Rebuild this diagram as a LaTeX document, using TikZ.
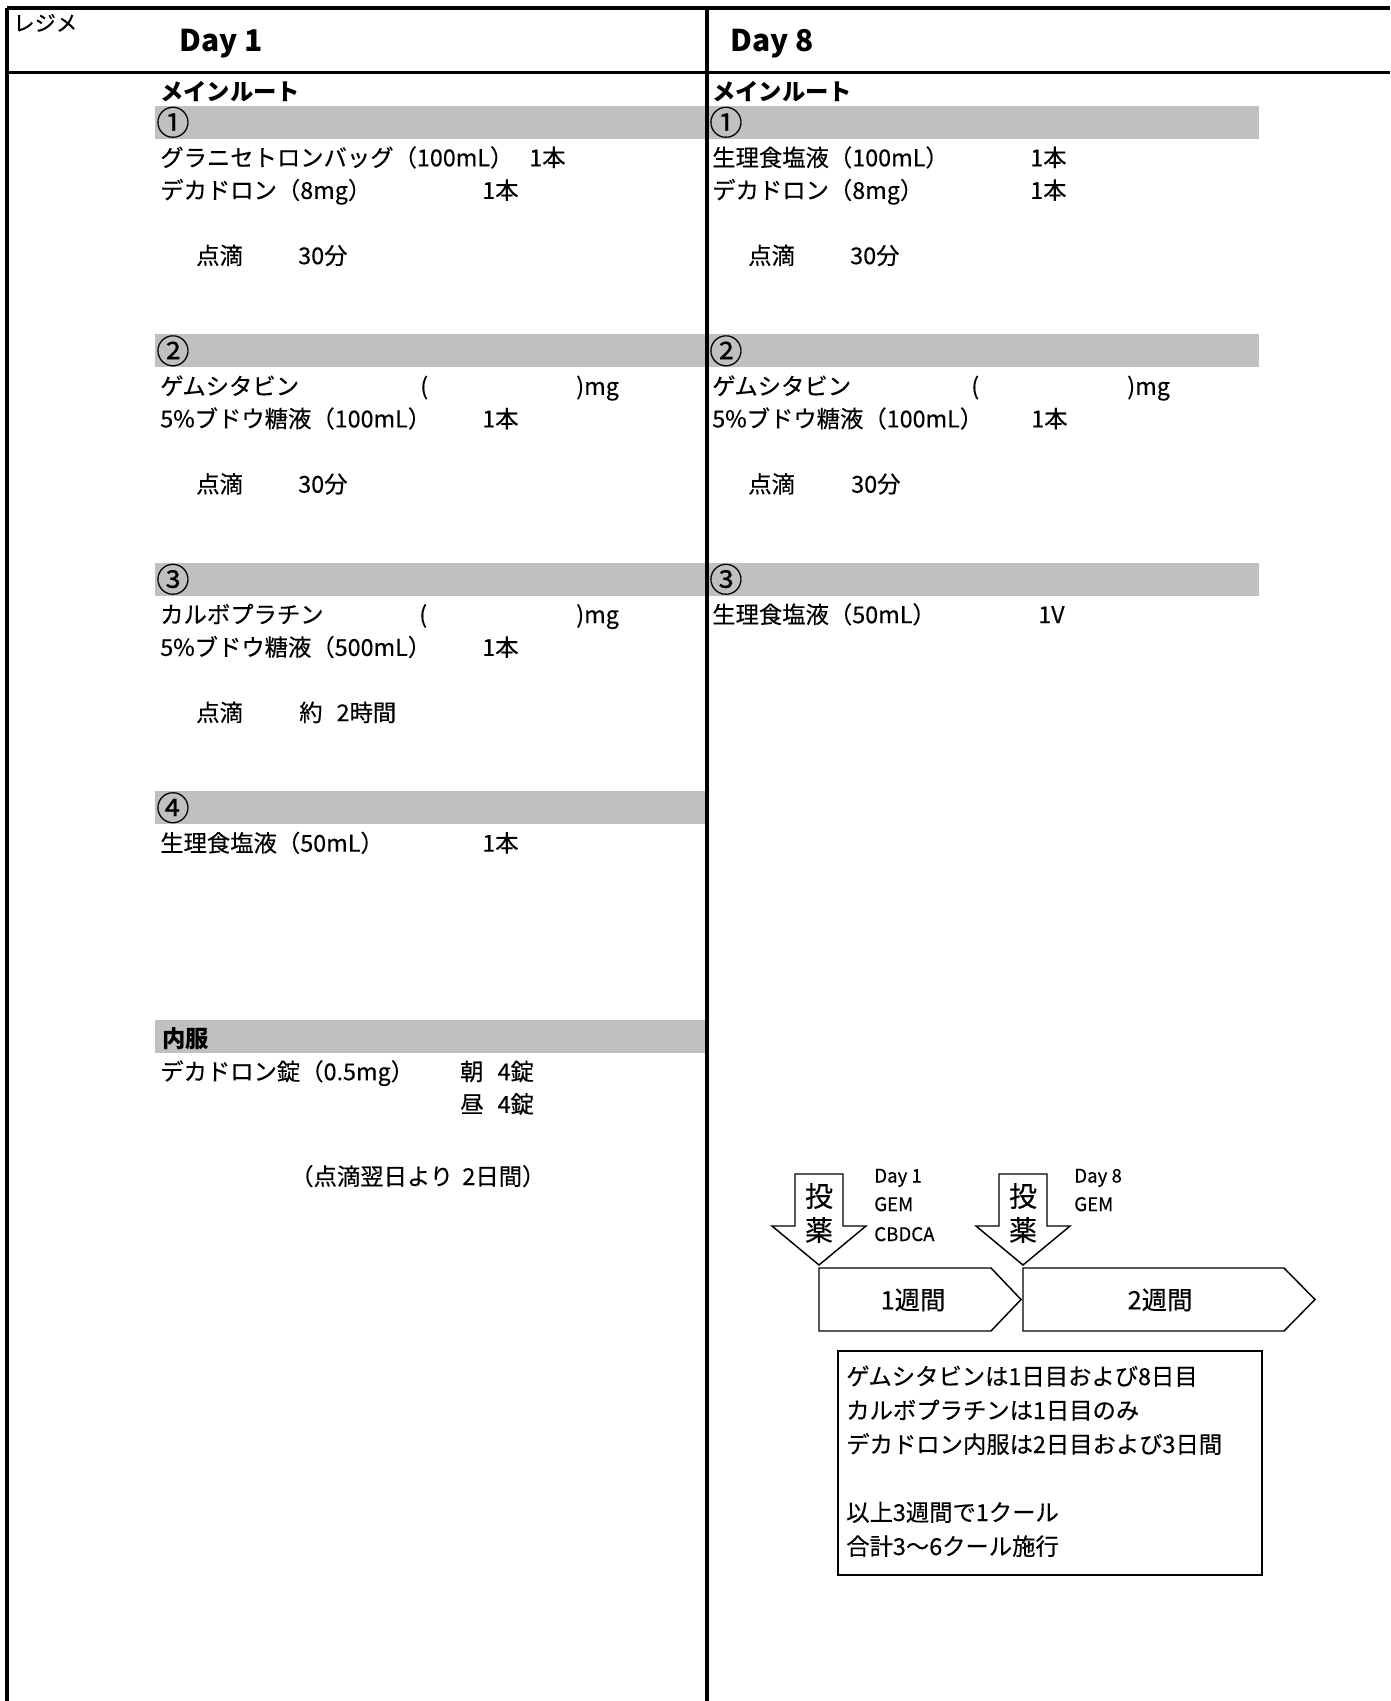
\documentclass[tikz,border=0pt]{standalone}
\usepackage{fontspec}
\setmainfont{Noto Sans CJK JP}[UprightFeatures={FakeBold=0.35}]
\definecolor{bandgray}{RGB}{192,192,192}
\newcommand{\bodyfont}{\fontsize{17.5}{20}\selectfont}
\newcommand{\smallfont}{\fontsize{14}{16}\selectfont}
\newcommand{\gap}{\hspace{0.6em}}

\begin{document}
\begin{tikzpicture}[x=0.75pt,y=-0.75pt,
  txt/.style={anchor=base west,inner sep=0pt,font=\bodyfont},
  boldtxt/.style={txt,font=\bodyfont\bfseries},
  numtxt/.style={anchor=west,inner sep=0pt,font=\fontsize{25}{26}\selectfont},
  hdtxt/.style={anchor=base west,inner sep=0pt,font=\fontsize{22.5}{24}\selectfont\bfseries},
  smalltxt/.style={anchor=base west,inner sep=0pt,font=\smallfont},
  bigtxt/.style={inner sep=0pt,font=\fontsize{21}{24}\selectfont},
  bandfill/.style={fill=bandgray},
  rule/.style={line width=2.6pt},
  outline/.style={draw=black,fill=white,line width=1.1pt,line join=miter}]
\useasboundingbox (0,0) rectangle (1390,1701);
%\draw[help lines] (0,0) grid (1390,1701);

% grey bands
\fill[bandfill] (155,106) rectangle (707,138.6);
\fill[bandfill] (155,334.5) rectangle (707,367.1);
\fill[bandfill] (155,563) rectangle (707,595.6);
\fill[bandfill] (155,791.4) rectangle (707,824.1);
\fill[bandfill] (155,1019.9) rectangle (707,1052.6);
\fill[bandfill] (707,106) rectangle (1259,138.6);
\fill[bandfill] (707,334.5) rectangle (1259,367.1);
\fill[bandfill] (707,563) rectangle (1259,595.6);

% frame
\draw[rule] (7,8) -- (1390,8);
\draw[rule] (7,72.5) -- (1390,72.5);
\draw[rule] (7,8) -- (7,1701);
\draw[rule] (707,8) -- (707,1701);

% header
\node[anchor=base west,inner sep=0pt,font=\fontsize{16}{18}\selectfont] (regime) at (13,31) {レジメ};
\node[hdtxt] (day1) at (179,52) {Day 1};
\node[hdtxt] (day8) at (730,52) {Day 8};

% Day 1
\node[boldtxt] (lmain) at (160,101) {メインルート};
\node[numtxt] (lno1) at (156,122.3) {①};
\node[txt] (lgran) at (160,166.3) {グラニセトロンバッグ（100mL）};
\node[txt] (lgrann) at (529,166.3) {1本};
\node[txt] (ldeca) at (160,198.9) {デカドロン（8mg）};
\node[txt] (ldecan) at (482,198.9) {1本};
\node[txt] (ldrip1) at (196,264.2) {点滴};
\node[txt] (ltime1) at (298,264.2) {30分};

\node[numtxt] (lno2) at (156,350.8) {②};
\node[txt] (lgem) at (160,394.8) {ゲムシタビン};
\node[txt] (lgemo) at (420,394.8) {(};
\node[txt] (lgemc) at (576,394.8) {)mg};
\node[txt] (lglua) at (160,427.4) {5\%ブドウ糖液（100mL）};
\node[txt] (lgluan) at (482,427.4) {1本};
\node[txt] (ldrip2) at (196,492.7) {点滴};
\node[txt] (ltime2) at (298,492.7) {30分};

\node[numtxt] (lno3) at (156,579.3) {③};
\node[txt] (lcarbo) at (160,623.2) {カルボプラチン};
\node[txt] (lcarboo) at (419,623.2) {(};
\node[txt] (lcarboc) at (576,623.2) {)mg};
\node[txt] (lglub) at (160,655.9) {5\%ブドウ糖液（500mL）};
\node[txt] (lglubn) at (482,655.9) {1本};
\node[txt] (ldrip3) at (196,721.2) {点滴};
\node[txt] (ltime3) at (299,721.2) {約\gap 2時間};

\node[numtxt] (lno4) at (156,807.7) {④};
\node[txt] (lsal) at (160,851.7) {生理食塩液（50mL）};
\node[txt] (lsaln) at (482,851.7) {1本};

\node[boldtxt] (loral) at (162,1047.6) {内服};
\node[txt] (ldtab) at (160,1080.2) {デカドロン錠（0.5mg）};
\node[txt] (lmorn) at (460,1080.2) {朝\gap 4錠};
\node[txt] (lnoon) at (460,1112.8) {昼\gap 4錠};
\node[txt] (lnext) at (290,1185) {（点滴翌日より\hspace{0.4em}2日間）};

% Day 8
\node[boldtxt] (rmain) at (712,101) {メインルート};
\node[numtxt] (rno1) at (709,122.3) {①};
\node[txt] (rsala) at (712,166.3) {生理食塩液（100mL）};
\node[txt] (rsalan) at (1030,166.3) {1本};
\node[txt] (rdeca) at (712,198.9) {デカドロン（8mg）};
\node[txt] (rdecan) at (1030,198.9) {1本};
\node[txt] (rdrip1) at (748,264.2) {点滴};
\node[txt] (rtime1) at (850,264.2) {30分};

\node[numtxt] (rno2) at (709,350.8) {②};
\node[txt] (rgem) at (712,394.8) {ゲムシタビン};
\node[txt] (rgemo) at (971,394.8) {(};
\node[txt] (rgemc) at (1127,394.8) {)mg};
\node[txt] (rglu) at (712,427.4) {5\%ブドウ糖液（100mL）};
\node[txt] (rglun) at (1031,427.4) {1本};
\node[txt] (rdrip2) at (748,492.7) {点滴};
\node[txt] (rtime2) at (851,492.7) {30分};

\node[numtxt] (rno3) at (709,579.3) {③};
\node[txt] (rsalb) at (712,623.2) {生理食塩液（50mL）};
\node[txt] (rsalbn) at (1038,623.2) {1V};

% schedule
\draw[outline] (795,1174) -- (843,1174) -- (843,1226) -- (866,1226) -- (819,1265) -- (772,1226) -- (795,1226) -- cycle;
\draw[outline] (999,1174) -- (1047,1174) -- (1047,1226) -- (1070,1226) -- (1023,1265) -- (976,1226) -- (999,1226) -- cycle;
\draw[outline] (819,1268) -- (991,1268) -- (1021,1299.5) -- (991,1331) -- (819,1331) -- cycle;
\draw[outline] (1023,1268) -- (1284,1268) -- (1315,1299.5) -- (1284,1331) -- (1023,1331) -- cycle;

\node[bigtxt] (tou1) at (819,1196) {投};
\node[bigtxt] (yaku1) at (819,1230) {薬};
\node[bigtxt] (tou2) at (1023,1196) {投};
\node[bigtxt] (yaku2) at (1023,1230) {薬};

\node[smalltxt] (sday1) at (874,1182.5) {Day 1};
\node[smalltxt] (sgem1) at (874,1211) {GEM};
\node[smalltxt] (scbdca) at (874,1241) {CBDCA};
\node[smalltxt] (sday8) at (1074,1182.5) {Day 8};
\node[smalltxt] (sgem8) at (1074,1211) {GEM};

\node[inner sep=0pt,font=\fontsize{19}{20}\selectfont] (week1) at (913,1300) {1週間};
\node[inner sep=0pt,font=\fontsize{19}{20}\selectfont] (week2) at (1160,1300) {2週間};

% note box
\draw[line width=1.2pt] (838,1351) rectangle (1262,1575);
\node[txt] (notea) at (846,1385) {ゲムシタビンは1日目および8日目};
\node[txt] (noteb) at (846,1419) {カルボプラチンは1日目のみ};
\node[txt] (notec) at (846,1453) {デカドロン内服は2日目および3日間};
\node[txt] (noted) at (846,1521) {以上3週間で1クール};
\node[txt] (notee) at (846,1555) {合計3～6クール施行};
\end{tikzpicture}
\end{document}
